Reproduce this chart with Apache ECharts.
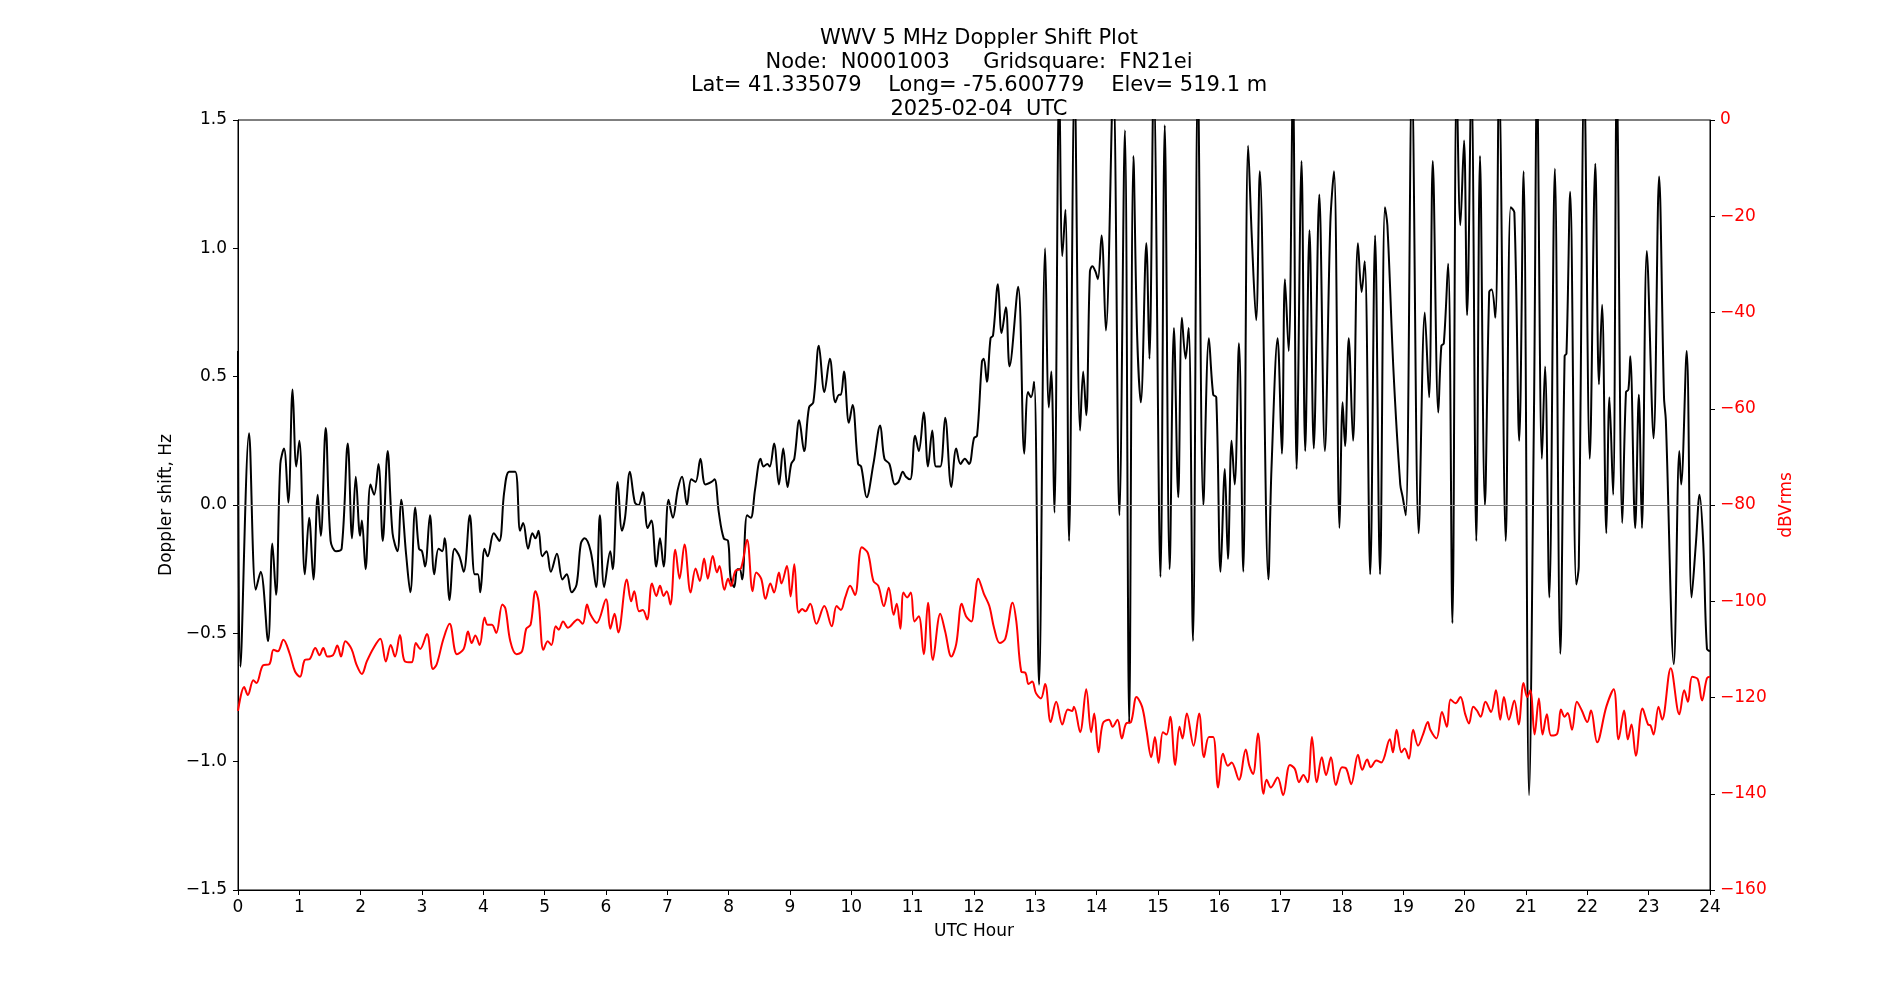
<!DOCTYPE html>
<html>
<head>
<meta charset="utf-8">
<title>WWV 5 MHz Doppler Shift Plot</title>
<script src="https://cdn.jsdelivr.net/npm/echarts@6/dist/echarts.min.js"></script>
<style>
  html, body { margin: 0; padding: 0; background: #fff; }
  #chart { width: 1900px; height: 1000px; }
</style>
</head>
<body>
<div id="chart"></div>
<script>
// Doppler shift (Hz)
var blackHours = [
  0.00,0.04,0.18,0.29,0.37,0.49,0.56,0.62,0.69,0.75,
  0.82,0.89,0.95,1.00,1.09,1.16,1.23,1.30,1.35,1.43,
  1.51,1.60,1.69,1.79,1.86,1.92,1.99,2.02,2.08,2.16,
  2.22,2.29,2.36,2.44,2.52,2.60,2.66,2.74,2.81,2.89,
  2.95,3.00,3.05,3.13,3.20,3.27,3.33,3.37,3.45,3.53,
  3.61,3.68,3.78,3.86,3.91,3.95,4.02,4.07,4.17,4.26,
  4.34,4.42,4.52,4.60,4.65,4.73,4.80,4.85,4.90,4.96,
  5.03,5.10,5.20,5.29,5.36,5.44,5.52,5.59,5.65,5.75,
  5.84,5.90,5.97,6.07,6.11,6.19,6.26,6.31,6.39,6.47,
  6.53,6.60,6.68,6.74,6.82,6.88,6.94,7.02,7.09,7.17,
  7.24,7.32,7.39,7.46,7.54,7.62,7.72,7.77,7.84,7.92,
  7.99,8.03,8.09,8.14,8.18,8.22,8.30,8.36,8.43,8.52,
  8.57,8.63,8.67,8.74,8.82,8.89,8.96,9.02,9.07,9.15,
  9.23,9.31,9.38,9.47,9.56,9.65,9.74,9.80,9.83,9.88,
  9.96,10.02,10.11,10.16,10.25,10.36,10.47,10.54,10.62,10.71,
  10.77,10.84,10.89,10.96,11.04,11.10,11.18,11.25,11.32,11.38,
  11.45,11.53,11.63,11.71,11.78,11.85,11.92,12.00,12.05,12.13,
  12.16,12.21,12.27,12.31,12.39,12.45,12.52,12.58,12.72,12.82,
  12.88,12.93,12.98,13.06,13.16,13.22,13.26,13.31,13.39,13.44,
  13.49,13.55,13.64,13.73,13.78,13.83,13.89,13.93,13.98,14.02,
  14.08,14.15,14.27,14.37,14.46,14.53,14.60,14.66,14.72,14.81,
  14.86,14.93,15.04,15.11,15.19,15.26,15.33,15.39,15.45,15.50,
  15.57,15.65,15.74,15.83,15.90,15.95,16.02,16.09,16.14,16.20,
  16.25,16.32,16.39,16.47,16.53,16.60,16.66,16.80,16.85,16.95,
  17.02,17.07,17.13,17.20,17.26,17.34,17.40,17.47,17.54,17.63,
  17.72,17.81,17.87,17.96,18.01,18.05,18.11,18.18,18.26,18.32,
  18.37,18.46,18.54,18.62,18.70,18.74,18.84,18.95,18.99,19.04,
  19.14,19.25,19.35,19.42,19.48,19.57,19.62,19.66,19.73,19.80,
  19.87,19.93,19.99,20.04,20.11,20.19,20.25,20.33,20.40,20.44,
  20.50,20.56,20.67,20.75,20.81,20.89,20.96,21.05,21.13,21.18,
  21.26,21.31,21.38,21.47,21.56,21.63,21.66,21.72,21.82,21.86,
  21.95,22.04,22.13,22.19,22.24,22.31,22.36,22.42,22.48,22.57,
  22.63,22.67,22.70,22.78,22.84,22.89,22.97,23.08,23.17,23.25,
  23.28,23.41,23.50,23.53,23.62,23.70,23.77,23.83,23.89,23.95,
  24.00
];
var blackShift = [
  0.60,-0.63,0.28,-0.33,-0.26,-0.53,-0.15,-0.35,0.16,0.22,
  0.01,0.45,0.15,0.25,-0.27,-0.05,-0.29,0.04,-0.12,0.30,
  -0.14,-0.18,-0.17,0.24,-0.13,0.11,-0.12,-0.06,-0.25,0.08,
  0.04,0.16,-0.14,0.21,-0.11,-0.18,0.02,-0.19,-0.34,-0.01,
  -0.17,-0.18,-0.24,-0.04,-0.27,-0.17,-0.18,-0.13,-0.37,-0.17,
  -0.20,-0.26,-0.04,-0.27,-0.27,-0.34,-0.17,-0.20,-0.11,-0.14,
  0.05,0.13,0.13,-0.10,-0.07,-0.17,-0.11,-0.13,-0.10,-0.20,
  -0.18,-0.26,-0.19,-0.29,-0.27,-0.34,-0.31,-0.15,-0.13,-0.18,
  -0.32,-0.04,-0.32,-0.18,-0.25,0.09,-0.10,-0.05,0.13,0.01,
  0.00,0.05,-0.09,-0.06,-0.24,-0.13,-0.24,0.02,-0.05,0.06,
  0.11,0.00,0.10,0.09,0.18,0.08,0.09,0.10,-0.03,-0.13,
  -0.14,-0.28,-0.32,-0.25,-0.25,-0.29,-0.04,-0.05,0.06,0.18,
  0.15,0.16,0.15,0.24,0.08,0.22,0.07,0.16,0.18,0.33,
  0.21,0.38,0.40,0.62,0.44,0.57,0.40,0.43,0.43,0.52,
  0.32,0.39,0.16,0.15,0.03,0.16,0.31,0.18,0.16,0.08,
  0.09,0.13,0.11,0.10,0.27,0.21,0.36,0.15,0.29,0.15,
  0.15,0.34,0.07,0.22,0.16,0.18,0.16,0.26,0.27,0.56,
  0.57,0.48,0.65,0.66,0.86,0.67,0.77,0.54,0.85,0.20,
  0.44,0.42,0.48,-0.70,1.00,0.38,0.52,-0.03,1.65,0.97,
  1.15,-0.14,1.65,0.29,0.52,0.35,0.91,0.93,0.91,0.88,
  1.05,0.68,1.65,-0.04,1.46,-0.85,1.36,0.66,0.40,1.02,
  0.57,1.65,-0.28,1.48,-0.25,0.69,0.03,0.73,0.57,0.69,
  -0.53,1.65,0.00,0.65,0.43,0.42,-0.26,0.14,-0.21,0.25,
  0.08,0.63,-0.26,1.40,1.04,0.72,1.30,-0.29,0.14,0.65,
  0.20,0.88,0.60,1.65,0.14,1.34,0.21,1.07,0.22,1.21,
  0.21,1.10,1.30,-0.09,0.40,0.23,0.65,0.25,1.02,0.83,
  0.95,-0.27,1.05,-0.27,1.16,1.09,0.52,0.08,0.03,-0.04,
  1.65,-0.11,0.75,0.42,1.34,0.36,0.62,0.63,0.94,-0.46,
  1.65,1.09,1.42,0.74,1.65,-0.14,1.36,0.00,0.83,0.84,
  0.73,1.65,-0.14,1.16,1.14,0.25,1.30,-1.13,0.36,1.65,
  0.18,0.54,-0.36,1.31,-0.58,0.58,0.59,1.22,-0.31,-0.24,
  1.65,0.18,1.33,0.47,0.78,-0.11,0.42,0.04,1.65,-0.07,
  0.44,0.45,0.58,-0.09,0.43,-0.09,0.99,0.26,1.28,0.42,
  0.33,-0.62,0.21,0.08,0.60,-0.36,-0.15,0.04,-0.15,-0.56,
  -0.57
];

// received level (dBVrms)
var redHours = [
  0.00,0.10,0.16,0.25,0.30,0.41,0.51,0.58,0.65,0.74,
  0.84,0.93,1.01,1.09,1.17,1.26,1.33,1.39,1.46,1.55,
  1.62,1.68,1.75,1.85,1.93,2.02,2.10,2.21,2.32,2.41,
  2.49,2.56,2.64,2.72,2.83,2.90,2.97,3.08,3.18,3.24,
  3.35,3.45,3.57,3.68,3.75,3.81,3.87,3.94,4.02,4.07,
  4.14,4.21,4.31,4.36,4.44,4.54,4.63,4.70,4.77,4.85,
  4.90,4.98,5.05,5.11,5.18,5.23,5.30,5.38,5.54,5.62,
  5.69,5.74,5.85,6.00,6.07,6.14,6.20,6.34,6.41,6.46,
  6.54,6.60,6.67,6.75,6.82,6.88,6.94,6.99,7.05,7.13,
  7.20,7.28,7.38,7.46,7.53,7.60,7.66,7.74,7.81,7.85,
  7.93,7.99,8.04,8.11,8.20,8.30,8.39,8.45,8.53,8.60,
  8.68,8.74,8.82,8.86,8.95,9.01,9.07,9.14,9.20,9.25,
  9.33,9.43,9.56,9.68,9.76,9.83,9.90,9.98,10.06,10.17,
  10.27,10.36,10.44,10.53,10.61,10.69,10.74,10.80,10.85,10.91,
  10.97,11.03,11.10,11.18,11.25,11.33,11.45,11.53,11.63,11.71,
  11.80,11.87,11.96,12.00,12.07,12.16,12.25,12.33,12.42,12.51,
  12.63,12.69,12.77,12.84,12.89,12.95,13.01,13.09,13.16,13.25,
  13.34,13.44,13.53,13.60,13.63,13.73,13.83,13.91,13.96,14.03,
  14.10,14.20,14.26,14.34,14.41,14.48,14.56,14.65,14.74,14.81,
  14.89,14.95,15.01,15.08,15.14,15.20,15.28,15.35,15.40,15.47,
  15.58,15.67,15.75,15.83,15.90,15.98,16.06,16.14,16.20,16.32,
  16.43,16.49,16.55,16.63,16.72,16.77,16.84,16.95,17.04,17.15,
  17.23,17.30,17.37,17.44,17.51,17.59,17.67,17.74,17.82,17.90,
  18.00,18.07,18.15,18.26,18.33,18.41,18.47,18.56,18.64,18.78,
  18.83,18.89,18.97,19.02,19.09,19.16,19.24,19.32,19.40,19.44,
  19.54,19.63,19.71,19.77,19.85,19.93,20.01,20.07,20.14,20.20,
  20.26,20.34,20.43,20.51,20.58,20.64,20.72,20.81,20.88,20.96,
  21.02,21.07,21.14,21.21,21.27,21.34,21.41,21.51,21.57,21.63,
  21.68,21.75,21.83,21.91,22.00,22.06,22.16,22.31,22.43,22.51,
  22.60,22.66,22.72,22.79,22.90,22.99,23.03,23.08,23.16,23.22,
  23.36,23.50,23.58,23.64,23.71,23.80,23.87,23.95,24.00
];
var redLevel = [
  -122.8,-117.8,-119.5,-116.4,-117.0,-113.3,-113.1,-110.1,-110.4,-108.0,
  -110.8,-114.6,-115.7,-112.2,-112.0,-109.7,-111.2,-109.7,-111.5,-111.2,
  -109.2,-111.5,-108.3,-109.9,-113.1,-115.1,-112.5,-109.7,-107.8,-112.5,
  -109.1,-111.5,-107.0,-112.5,-112.7,-108.7,-109.9,-106.8,-114.1,-113.1,
  -107.8,-104.7,-111.0,-109.9,-106.3,-108.7,-107.1,-109.1,-103.4,-104.9,
  -104.9,-106.6,-100.7,-101.5,-108.3,-111.0,-110.4,-105.7,-104.9,-97.9,
  -100.0,-110.1,-108.3,-109.1,-105.2,-105.9,-104.2,-105.5,-103.8,-104.7,
  -100.7,-102.6,-104.5,-99.6,-105.7,-102.6,-106.5,-95.5,-100.0,-97.9,
  -102.1,-101.8,-103.8,-96.3,-98.9,-96.8,-98.9,-97.9,-100.7,-89.3,
  -95.3,-88.2,-98.2,-93.2,-95.8,-91.1,-95.3,-90.6,-94.0,-92.7,
  -97.6,-95.3,-96.8,-93.7,-93.2,-87.2,-97.9,-94.0,-95.3,-99.5,
  -96.3,-98.2,-94.0,-96.3,-92.7,-99.0,-92.3,-102.4,-101.6,-102.1,
  -100.5,-104.7,-101.0,-105.2,-101.0,-101.8,-99.2,-96.8,-98.7,-88.8,
  -90.0,-95.8,-96.8,-101.0,-97.2,-102.8,-100.5,-105.7,-98.2,-99.2,
  -98.2,-104.2,-103.1,-111.0,-100.3,-112.2,-102.6,-106.3,-111.5,-108.9,
  -100.5,-103.1,-104.2,-101.0,-95.3,-98.4,-101.0,-105.7,-108.7,-107.8,
  -100.3,-104.2,-114.6,-114.9,-117.2,-116.7,-119.1,-120.2,-117.2,-125.1,
  -120.9,-125.6,-122.5,-122.8,-121.9,-127.2,-118.3,-127.2,-123.3,-131.4,
  -125.4,-124.6,-126.1,-124.6,-128.5,-125.4,-125.1,-119.9,-121.9,-126.7,
  -132.4,-128.2,-133.6,-127.2,-127.7,-124.0,-134.0,-126.1,-128.5,-123.3,
  -130.0,-123.3,-132.4,-128.2,-128.2,-138.7,-131.7,-134.2,-133.5,-137.1,
  -130.8,-134.2,-135.9,-127.5,-140.0,-137.1,-138.7,-136.6,-140.3,-134.0,
  -134.8,-137.6,-136.1,-137.6,-128.2,-137.6,-132.4,-136.1,-132.4,-138.2,
  -134.5,-134.8,-138.0,-131.9,-135.0,-132.9,-134.5,-133.1,-133.5,-128.7,
  -131.4,-126.7,-131.4,-130.6,-132.7,-126.7,-130.0,-127.7,-125.1,-126.7,
  -128.5,-123.0,-126.1,-120.4,-121.2,-119.9,-123.5,-125.4,-121.9,-122.7,
  -124.0,-120.9,-123.0,-118.5,-124.6,-119.9,-124.6,-120.6,-125.6,-117.0,
  -119.9,-118.5,-127.7,-120.2,-127.7,-123.5,-127.9,-127.5,-122.5,-124.0,
  -123.2,-126.7,-120.9,-122.7,-125.1,-122.7,-129.3,-121.9,-118.3,-128.7,
  -122.7,-128.7,-125.6,-132.1,-122.3,-125.6,-125.8,-127.7,-121.9,-124.6,
  -113.9,-123.5,-118.5,-120.9,-115.7,-116.2,-120.6,-116.0,-115.7
];

var titleLines = [
  "WWV 5 MHz Doppler Shift Plot",
  "Node:  N0001003     Gridsquare:  FN21ei",
  "Lat= 41.335079    Long= -75.600779    Elev= 519.1 m",
  "2025-02-04  UTC"
];

if (blackHours.length !== blackShift.length) console.error("black arrays differ", blackHours.length, blackShift.length);
if (redHours.length !== redLevel.length) console.error("red arrays differ", redHours.length, redLevel.length);

function pairs(xs, ys) {
  return xs.map(function (x, i) { return [x, ys[i]]; });
}
// matplotlib style minus sign
function mpl(v, digits) {
  return v.toFixed(digits).replace("-", "\u2212");
}

var FONT = "DejaVu Sans";
var chart = echarts.init(document.getElementById("chart"), null, { renderer: "canvas" });

var option = {
  animation: false,
  backgroundColor: "#fff",
  textStyle: { fontFamily: FONT },
  title: {
    text: titleLines.join("\n"),
    left: 974,
    top: 22,
    textAlign: "center",
    textStyle: { fontFamily: FONT, fontSize: 21, fontWeight: "normal", color: "#000", lineHeight: 23.5 }
  },
  grid: {
    left: 238, right: 190, top: 120, bottom: 110,
    show: true, borderColor: "#000", borderWidth: 1, backgroundColor: "transparent"
  },
  xAxis: {
    type: "value",
    min: 0, max: 24, interval: 1,
    name: "UTC Hour",
    nameLocation: "middle",
    nameGap: 33,
    nameTextStyle: { fontFamily: FONT, fontSize: 17, color: "#000" },
    axisLine: { show: true, onZero: false, lineStyle: { color: "#000", width: 1 } },
    axisTick: { show: true, length: 5, lineStyle: { color: "#000" } },
    axisLabel: { margin: 9, fontFamily: FONT, fontSize: 17, color: "#000" },
    splitLine: { show: false }
  },
  yAxis: [
    {
      type: "value",
      min: -1.5, max: 1.5, interval: 0.5,
      name: "Doppler shift, Hz",
      nameLocation: "middle",
      nameRotate: 90,
      nameGap: 61,
      nameTextStyle: { fontFamily: FONT, fontSize: 17, color: "#000" },
      axisLine: { show: true, lineStyle: { color: "#000", width: 1 } },
      axisTick: { show: true, length: 5, lineStyle: { color: "#000" } },
      axisLabel: { margin: 11, fontFamily: FONT, fontSize: 17, color: "#000",
        formatter: function (v) { return mpl(v, 1); } },
      splitLine: { show: false }
    },
    {
      type: "value",
      position: "right",
      min: -160, max: 0, interval: 20,
      name: "dBVrms",
      nameLocation: "middle",
      nameRotate: 90,
      nameGap: 63,
      nameTextStyle: { fontFamily: FONT, fontSize: 17, color: "#ff0000" },
      axisLine: { show: true, lineStyle: { color: "#000", width: 1 } },
      axisTick: { show: true, length: 5, lineStyle: { color: "#000" } },
      axisLabel: { margin: 10, fontFamily: FONT, fontSize: 17, color: "#ff0000",
        formatter: function (v) { return mpl(v, 0); } },
      splitLine: { show: false }
    }
  ],
  series: [
    {
      name: "Doppler shift",
      type: "line",
      yAxisIndex: 0,
      data: pairs(blackHours, blackShift),
      showSymbol: false,
      smooth: 0.35,
      clip: true,
      lineStyle: { color: "#000", width: 2 },
      z: 3,
      markLine: {
        silent: true,
        symbol: "none",
        label: { show: false },
        lineStyle: { color: "#909090", width: 1, type: "solid" },
        data: [{ yAxis: 0 }]
      }
    },
    {
      name: "dBVrms",
      type: "line",
      yAxisIndex: 1,
      data: pairs(redHours, redLevel),
      showSymbol: false,
      smooth: 0.35,
      clip: true,
      lineStyle: { color: "#ff0000", width: 2 },
      z: 4
    }
  ]
};

chart.setOption(option);
</script>
</body>
</html>
